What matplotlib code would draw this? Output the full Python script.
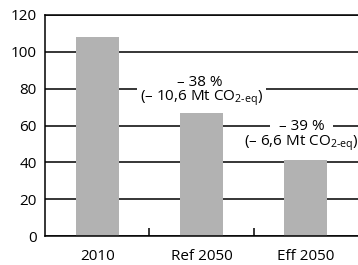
import matplotlib
matplotlib.use("Agg")
import matplotlib.pyplot as plt

plt.rcParams['font.family'] = ['Open Sans', 'DejaVu Sans']
plt.rcParams['mathtext.fontset'] = 'custom'
plt.rcParams['mathtext.rm'] = 'Open Sans'
plt.rcParams['mathtext.it'] = 'Open Sans:italic'
plt.rcParams['mathtext.bf'] = 'Open Sans:bold'

# data
kategorier = ["2010", "Ref 2050", "Eff 2050"]
verdier = [108, 67, 41]
prosent = ["\u2013 38 %", "\u2013 39 %"]
mengde = ["(\u2013 10,6 Mt CO$_{\\text{2-eq}}$)", "(\u2013 6,6 Mt CO$_{\\text{2-eq}}$)"]

fs = 11

fig = plt.figure(figsize=(3.58, 2.65), dpi=100)
ax = fig.add_axes([45 / 358, 29 / 265, 313 / 358, 221 / 265])

x = list(range(len(kategorier)))
ax.bar(x, verdier, width=0.41, color="#b2b2b2", zorder=2)

ax.set_xlim(-0.5, 2.5)
ax.set_ylim(0, 120)
ax.set_yticks(range(0, 121, 20))
ax.set_xticks(x)
ax.set_xticklabels(kategorier)
ax.set_xticks([0.5, 1.5], minor=True)

ax.yaxis.grid(True, color="black", linewidth=1.1)
ax.set_axisbelow(True)

for s in ["left", "bottom", "top"]:
    ax.spines[s].set_linewidth(1.1)
    ax.spines[s].set_color("black")
ax.spines["right"].set_visible(False)

ax.tick_params(axis="y", length=0, pad=6, labelsize=fs)
ax.tick_params(axis="x", which="major", length=0, pad=9, labelsize=fs)
ax.tick_params(axis="x", which="minor", direction="in", length=6, width=1.1)

# annotations for reductions
hvit = dict(facecolor="white", edgecolor="none", pad=2)
ax.text(0.985, 83.4, prosent[0], ha="center", va="center", fontsize=fs, bbox=hvit, zorder=3)
ax.text(1.0, 74.6, mengde[0], ha="center", va="center", fontsize=fs, bbox=hvit, zorder=3)
ax.text(1.96, 59.5, prosent[1], ha="center", va="center", fontsize=fs,
        bbox=dict(facecolor="white", edgecolor="none", pad=6), zorder=3)
ax.text(1.96, 50.6, mengde[1], ha="center", va="center", fontsize=fs, zorder=3, clip_on=False)

fig.savefig("out.png", dpi=100)
